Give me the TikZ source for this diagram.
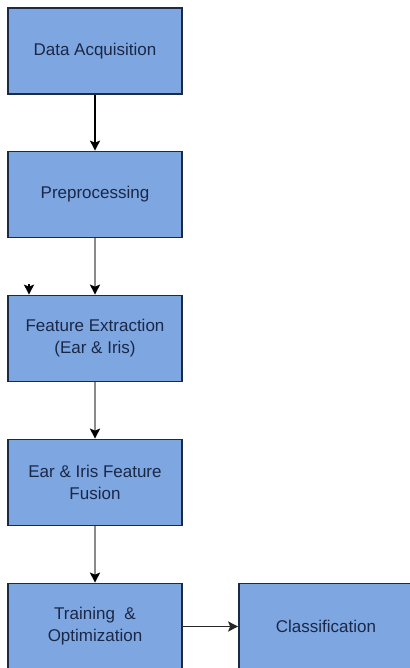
\documentclass[tikz,border=0pt]{standalone}
\usepackage{fontspec}
\setmainfont{Liberation Sans}
\usetikzlibrary{arrows.meta}
\definecolor{boxfill}{HTML}{7EA6E0}
\definecolor{boxline}{HTML}{1C2B45}
\definecolor{boxtext}{HTML}{1A2848}
\definecolor{linegray}{HTML}{8A8A8A}
\begin{document}
\begin{tikzpicture}[x=1pt,y=-1pt,
  stepbox/.style={draw=boxline, line width=1.7pt, fill=boxfill, rectangle,
    minimum width=174pt, minimum height=86pt, inner sep=2pt, align=center,
    text=boxtext, font=\fontsize{17}{22}\selectfont},
  blackarrow/.style={draw=black, line width=1.8pt, -{Stealth[length=10pt,width=10pt,inset=2pt]}},
  grayarrow/.style={draw=linegray, line width=2pt, -{Stealth[length=10pt,width=10pt,inset=2pt,color=black]}}
]
\useasboundingbox (0,0) rectangle (409,668);
\node[stepbox] (da) at (95,51) {Data Acquisition};
\node[stepbox] (pp) at (95,194.5) {Preprocessing};
\node[stepbox] (fe) at (95,338.5) {Feature Extraction\\(Ear \& Iris)};
\node[stepbox] (ff) at (95,482.5) {Ear \& Iris Feature\\Fusion};
\node[stepbox] (to) at (95,626.5) {Training\ \ \&\\Optimization};
\node[stepbox] (cl) at (326,626.5) {Classification};
\coordinate (s) at (29,284);
\draw[blackarrow] (da) -- (pp);
\draw[grayarrow] (pp) -- (fe);
\draw[grayarrow] (fe) -- (ff);
\draw[grayarrow] (ff) -- (to);
\draw[blackarrow] (s) -- (s |- fe.north);
\draw[blackarrow, draw=black!85] (to) -- (cl);
\end{tikzpicture}
\end{document}
